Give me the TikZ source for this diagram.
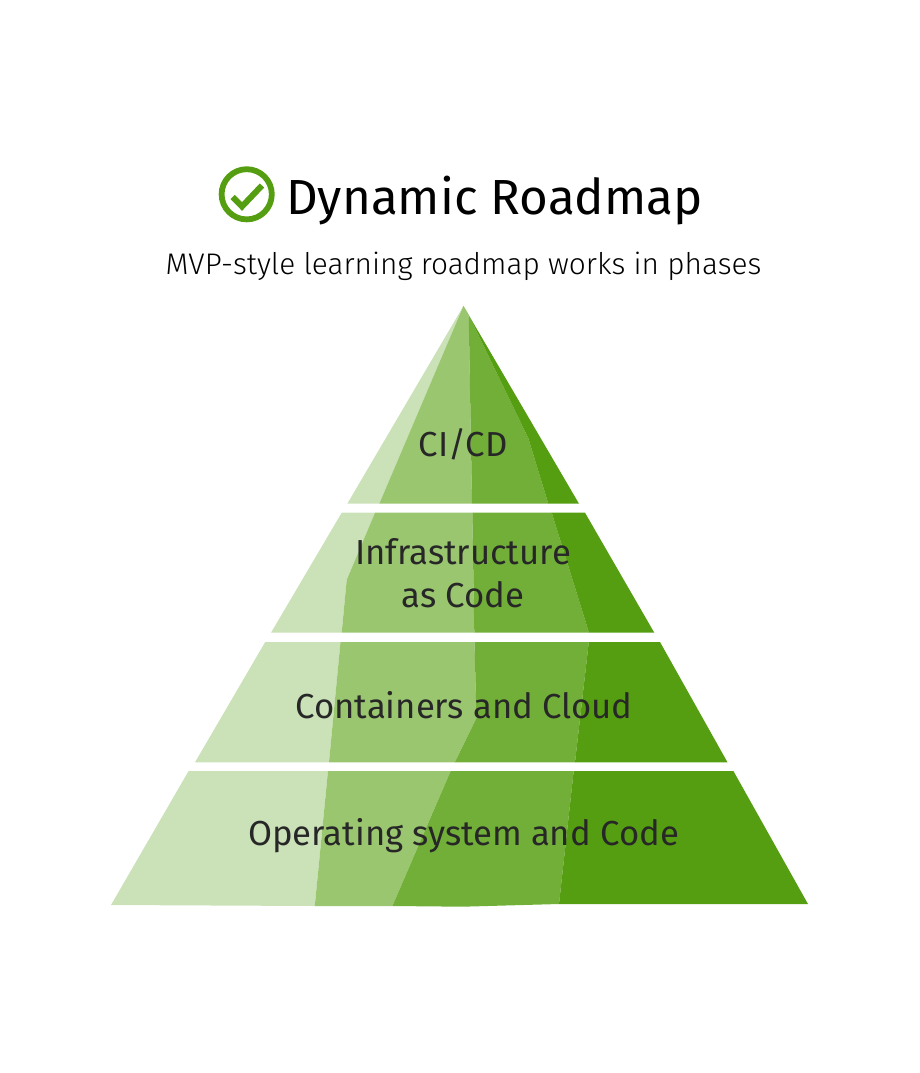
\documentclass[tikz,border=0pt]{standalone}
\usepackage{fontspec}
\setmainfont{Fira Sans Light}
\newfontfamily\bookfont{Fira Sans}
\definecolor{cA}{HTML}{CBE2B8}
\definecolor{cB}{HTML}{9AC670}
\definecolor{cC}{HTML}{72AF38}
\definecolor{cD}{HTML}{559E11}
\definecolor{ink}{HTML}{272727}
\tikzset{
  bandA/.style={fill=cA,draw=none},
  bandB/.style={fill=cB,draw=none},
  bandC/.style={fill=cC,draw=none},
  bandD/.style={fill=cD,draw=none},
  title/.style={anchor=base,inner sep=0pt,text=black,font=\bookfont\fontsize{49.3}{49.3}\selectfont},
  subtitle/.style={anchor=base,inner sep=0pt,text=black,font=\fontsize{29.8}{30}\selectfont},
  tier/.style={anchor=base,inner sep=0pt,text=ink,font=\bookfont\fontsize{34.7}{34.7}\selectfont},
  icon/.style={draw=cD,line width=5.8pt}
}
\begin{document}
\begin{tikzpicture}[x=1pt,y=-1pt]
\useasboundingbox (0,0) rectangle (919,1073);
% tier 1
\fill[bandA] (463.4,306) -- (347.3,503.7) -- (379.3,503.7) -- cycle;
\fill[bandB] (463.4,306) -- (379.3,503.7) -- (472,503.7) -- (468.7,315) -- cycle;
\fill[bandC] (468.7,315) -- (472,503.7) -- (548.3,503.7) -- (528.3,438.3) -- cycle;
\fill[bandD] (463.4,306) -- (468.7,315) -- (528.3,438.3) -- (548.3,503.7) -- (579,503.7) -- cycle;
% tier 2
\fill[bandA] (341.7,512.7) -- (375,512.7) -- (346.7,580) -- (341.7,632.7) -- (271,632.7) -- cycle;
\fill[bandB] (375,512.7) -- (472.3,512.7) -- (474.3,632.7) -- (341.7,632.7) -- (346.7,580) -- cycle;
\fill[bandC] (472.3,512.7) -- (551.7,512.7) -- (589,632.7) -- (474.3,632.7) -- cycle;
\fill[bandD] (551.7,512.7) -- (585,512.7) -- (654.3,632.7) -- (589,632.7) -- cycle;
% tier 3
\fill[bandA] (265.2,642) -- (340.5,642) -- (329,762.3) -- (195,762.3) -- cycle;
\fill[bandB] (340.5,642) -- (474.5,642) -- (476.4,718.3) -- (454.8,762.3) -- (329,762.3) -- cycle;
\fill[bandC] (474.5,642) -- (588.8,642) -- (575,762.3) -- (454.8,762.3) -- (476.4,718.3) -- cycle;
\fill[bandD] (588.8,642) -- (660,642) -- (727.5,762.3) -- (575,762.3) -- cycle;
% tier 4
\fill[bandA] (188.6,771) -- (328,771) -- (314.8,906) -- (111,905) -- cycle;
\fill[bandB] (328,771) -- (450.7,771) -- (392.4,906) -- (314.8,906) -- cycle;
\fill[bandC] (450.7,771) -- (573.7,771) -- (559,904) -- (462.6,906.7) -- (392.4,906) -- cycle;
\fill[bandD] (573.7,771) -- (733.4,771) -- (808,904) -- (559,904) -- cycle;
% icon
\draw[icon] (246.7,194.3) circle (25.1);
\draw[icon,line width=6pt] (232.7,197) -- (242,206.5) -- (262,185.5);
% text
\node[title] (heading) at (494.5,214) {Dynamic Roadmap};
\node[subtitle] (sub) at (463.5,274) {MVP-style learning roadmap works in phases};
\node[tier] (t1) at (463,456) {CI/CD};
\node[tier] (t2a) at (463,564) {Infrastructure};
\node[tier] (t2b) at (463,607.5) {as Code};
\node[tier] (t3) at (464,718) {Containers and Cloud};
\node[tier] (t4) at (463.5,845) {Operating system and Code};
\end{tikzpicture}
\end{document}
